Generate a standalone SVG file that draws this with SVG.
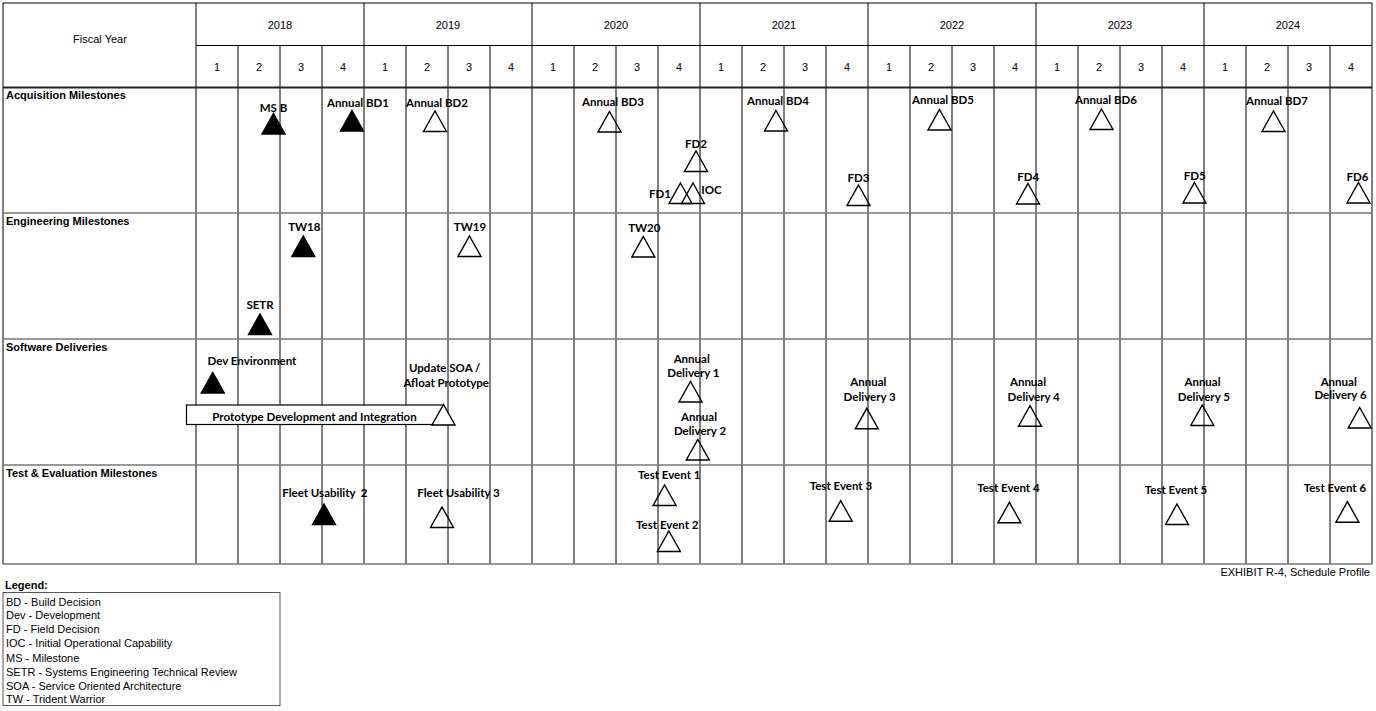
<svg xmlns="http://www.w3.org/2000/svg" xmlns:xlink="http://www.w3.org/1999/xlink" width="1376" height="711" viewBox="0 0 1376 711">
<style>
.hd{font-family:"Liberation Sans",Arial,sans-serif;font-size:11px;fill:#000;text-anchor:middle}
.sec{font-family:"Liberation Sans",Arial,sans-serif;font-size:11px;font-weight:bold;fill:#000}
.lg{font-family:"Liberation Sans",Arial,sans-serif;font-size:11px;fill:#000}
.ml{font-family:Lato,"Open Sans",sans-serif;font-size:11.5px;font-weight:bold;fill:#000;text-anchor:middle}
.v{stroke:#000;stroke-width:1}
.h{stroke:#777;stroke-width:1.6}
.f{fill:#000;stroke:#000;stroke-width:1.4}
.o{fill:none;stroke:#000;stroke-width:1.4}
.ow{fill:#fff;stroke:#000;stroke-width:1.4}
</style>
<defs>
<path id="tri" d="M0,0 L11.5,20.5 L-11.5,20.5 Z"/>
</defs>
<rect width="1376" height="711" fill="#fff"/>
<g id="grid">
<line class="v" x1="3" y1="3" x2="3" y2="564"/>
<line class="v" x1="196" y1="3" x2="196" y2="564"/>
<line class="v" x1="364" y1="3" x2="364" y2="564"/>
<line class="v" x1="532" y1="3" x2="532" y2="564"/>
<line class="v" x1="700" y1="3" x2="700" y2="564"/>
<line class="v" x1="868" y1="3" x2="868" y2="564"/>
<line class="v" x1="1036" y1="3" x2="1036" y2="564"/>
<line class="v" x1="1204" y1="3" x2="1204" y2="564"/>
<line class="v" x1="1372" y1="3" x2="1372" y2="564"/>
<g class="v">
<line x1="238" y1="45" x2="238" y2="564"/><line x1="280" y1="45" x2="280" y2="564"/><line x1="322" y1="45" x2="322" y2="564"/>
<line x1="406" y1="45" x2="406" y2="564"/><line x1="448" y1="45" x2="448" y2="564"/><line x1="490" y1="45" x2="490" y2="564"/>
<line x1="574" y1="45" x2="574" y2="564"/><line x1="616" y1="45" x2="616" y2="564"/><line x1="658" y1="45" x2="658" y2="564"/>
<line x1="742" y1="45" x2="742" y2="564"/><line x1="784" y1="45" x2="784" y2="564"/><line x1="826" y1="45" x2="826" y2="564"/>
<line x1="910" y1="45" x2="910" y2="564"/><line x1="952" y1="45" x2="952" y2="564"/><line x1="994" y1="45" x2="994" y2="564"/>
<line x1="1078" y1="45" x2="1078" y2="564"/><line x1="1120" y1="45" x2="1120" y2="564"/><line x1="1162" y1="45" x2="1162" y2="564"/>
<line x1="1246" y1="45" x2="1246" y2="564"/><line x1="1288" y1="45" x2="1288" y2="564"/><line x1="1330" y1="45" x2="1330" y2="564"/>
</g>
<line class="v" x1="3" y1="3" x2="1372" y2="3"/>
<line class="v" x1="196" y1="45.5" x2="1372" y2="45.5"/>
<line x1="3" y1="87.5" x2="1372" y2="87.5" stroke="#222" stroke-width="1.8"/>
<line class="h" x1="3" y1="213" x2="1372" y2="213"/>
<line class="h" x1="3" y1="339" x2="1372" y2="339"/>
<line class="h" x1="3" y1="465" x2="1372" y2="465"/>
<line class="h" x1="3" y1="564" x2="1372" y2="564"/>
</g>
<g id="header">
<text class="hd" x="100" y="43">Fiscal Year</text>
<text class="hd" x="280" y="29">2018</text>
<text class="hd" x="448" y="29">2019</text>
<text class="hd" x="616" y="29">2020</text>
<text class="hd" x="784" y="29">2021</text>
<text class="hd" x="952" y="29">2022</text>
<text class="hd" x="1120" y="29">2023</text>
<text class="hd" x="1288" y="29">2024</text>
<g>
<text class="hd" x="217" y="71">1</text><text class="hd" x="259" y="71">2</text><text class="hd" x="301" y="71">3</text><text class="hd" x="343" y="71">4</text>
<text class="hd" x="385" y="71">1</text><text class="hd" x="427" y="71">2</text><text class="hd" x="469" y="71">3</text><text class="hd" x="511" y="71">4</text>
<text class="hd" x="553" y="71">1</text><text class="hd" x="595" y="71">2</text><text class="hd" x="637" y="71">3</text><text class="hd" x="679" y="71">4</text>
<text class="hd" x="721" y="71">1</text><text class="hd" x="763" y="71">2</text><text class="hd" x="805" y="71">3</text><text class="hd" x="847" y="71">4</text>
<text class="hd" x="889" y="71">1</text><text class="hd" x="931" y="71">2</text><text class="hd" x="973" y="71">3</text><text class="hd" x="1015" y="71">4</text>
<text class="hd" x="1057" y="71">1</text><text class="hd" x="1099" y="71">2</text><text class="hd" x="1141" y="71">3</text><text class="hd" x="1183" y="71">4</text>
<text class="hd" x="1225" y="71">1</text><text class="hd" x="1267" y="71">2</text><text class="hd" x="1309" y="71">3</text><text class="hd" x="1351" y="71">4</text>
</g>
<text class="sec" x="6" y="99">Acquisition Milestones</text>
<text class="sec" x="6" y="225">Engineering Milestones</text>
<text class="sec" x="6" y="351">Software Deliveries</text>
<text class="sec" x="6" y="477">Test &amp; Evaluation Milestones</text>
</g>
<g id="ms-b"><use href="#tri" class="f" x="273.5" y="113.5"/><text class="ml" x="273.5" y="111.5">MS B</text></g>
<g id="annual-bd1"><use href="#tri" class="f" x="352" y="110.5"/><text class="ml" x="358" y="106.5">Annual BD1</text></g>
<g id="annual-bd2"><use href="#tri" class="o" x="435" y="111"/><text class="ml" x="437" y="106.5">Annual BD2</text></g>
<g id="annual-bd3"><use href="#tri" class="o" x="609.5" y="111.5"/><text class="ml" x="613" y="105.5">Annual BD3</text></g>
<g id="annual-bd4"><use href="#tri" class="o" x="776" y="110.5"/><text class="ml" x="778" y="105">Annual BD4</text></g>
<g id="annual-bd5"><use href="#tri" class="o" x="939.5" y="109.5"/><text class="ml" x="943" y="104">Annual BD5</text></g>
<g id="annual-bd6"><use href="#tri" class="o" x="1101.5" y="109"/><text class="ml" x="1106" y="104">Annual BD6</text></g>
<g id="annual-bd7"><use href="#tri" class="o" x="1273.5" y="111"/><text class="ml" x="1277" y="105">Annual BD7</text></g>
<g id="fd2"><use href="#tri" class="o" x="696" y="151"/><text class="ml" x="696" y="148">FD2</text></g>
<g id="fd1"><use href="#tri" class="o" x="680.5" y="183"/><text class="ml" x="660" y="198">FD1</text></g>
<g id="ioc"><use href="#tri" class="o" x="693" y="183"/><text class="ml" x="711.5" y="193.5">IOC</text></g>
<g id="fd3"><use href="#tri" class="o" x="858.5" y="185"/><text class="ml" x="858.5" y="182">FD3</text></g>
<g id="fd4"><use href="#tri" class="o" x="1028" y="183.5"/><text class="ml" x="1028.3" y="181">FD4</text></g>
<g id="fd5"><use href="#tri" class="o" x="1194.5" y="182.5"/><text class="ml" x="1194.7" y="179.5">FD5</text></g>
<g id="fd6"><use href="#tri" class="o" x="1358.5" y="182.5"/><text class="ml" x="1357.5" y="180.5">FD6</text></g>
<g id="tw18"><use href="#tri" class="f" x="303.3" y="236"/><text class="ml" x="304.3" y="231">TW18</text></g>
<g id="tw19"><use href="#tri" class="o" x="469.5" y="236"/><text class="ml" x="470" y="231">TW19</text></g>
<g id="tw20"><use href="#tri" class="o" x="643.3" y="236.5"/><text class="ml" x="644.3" y="232">TW20</text></g>
<g id="setr"><use href="#tri" class="f" x="260" y="314"/><text class="ml" x="260" y="309">SETR</text></g>
<g id="dev-environment"><use href="#tri" class="f" x="212.8" y="372.5"/><text class="ml" x="252" y="364.5">Dev Environment</text></g>
<g id="prototype-bar">
<rect x="186.5" y="405" width="257" height="19.5" fill="#fff" stroke="#000" stroke-width="1.2"/>
<use href="#tri" class="ow" x="443.5" y="404.5"/>
<text class="ml" x="314.5" y="421">Prototype Development and Integration</text>
</g>
<g id="update-soa"><text class="ml" x="444.7" y="372">Update SOA /</text><text class="ml" x="446.2" y="387">Afloat Prototype</text></g>
<g id="annual-delivery-1"><use href="#tri" class="o" x="690.5" y="381.5"/><text class="ml" x="691.7" y="363">Annual</text><text class="ml" x="693.4" y="377">Delivery 1</text></g>
<g id="annual-delivery-2"><use href="#tri" class="o" x="697.8" y="439.5"/><text class="ml" x="699" y="420.5">Annual</text><text class="ml" x="700" y="435">Delivery 2</text></g>
<g id="annual-delivery-3"><use href="#tri" class="o" x="866.8" y="408.3"/><text class="ml" x="868.3" y="386">Annual</text><text class="ml" x="869.7" y="400.5">Delivery 3</text></g>
<g id="annual-delivery-4"><use href="#tri" class="o" x="1030" y="405.7"/><text class="ml" x="1028" y="386">Annual</text><text class="ml" x="1033.7" y="400.5">Delivery 4</text></g>
<g id="annual-delivery-5"><use href="#tri" class="o" x="1202.3" y="405"/><text class="ml" x="1202.5" y="386">Annual</text><text class="ml" x="1203.8" y="400.5">Delivery 5</text></g>
<g id="annual-delivery-6"><use href="#tri" class="o" x="1359.7" y="407.5"/><text class="ml" x="1338.7" y="385.5">Annual</text><text class="ml" x="1340.5" y="399">Delivery 6</text></g>
<g id="fleet-usability-2"><use href="#tri" class="f" x="324" y="504"/><text class="ml" x="324.9" y="497.3" xml:space="preserve">Fleet Usability  2</text></g>
<g id="fleet-usability-3"><use href="#tri" class="o" x="442" y="507"/><text class="ml" x="458.5" y="497.3">Fleet Usability 3</text></g>
<g id="test-event-1"><use href="#tri" class="o" x="664.6" y="485"/><text class="ml" x="669.2" y="479">Test Event 1</text></g>
<g id="test-event-2"><use href="#tri" class="o" x="668.9" y="531"/><text class="ml" x="667.3" y="529">Test Event 2</text></g>
<g id="test-event-3"><use href="#tri" class="o" x="840.7" y="500.7"/><text class="ml" x="840.9" y="490">Test Event 3</text></g>
<g id="test-event-4"><use href="#tri" class="o" x="1009.4" y="502.3"/><text class="ml" x="1008.4" y="492">Test Event 4</text></g>
<g id="test-event-5"><use href="#tri" class="o" x="1177" y="504"/><text class="ml" x="1176" y="494">Test Event 5</text></g>
<g id="test-event-6"><use href="#tri" class="o" x="1347.4" y="501.7"/><text class="ml" x="1334.9" y="491.7">Test Event 6</text></g>
<g id="connectors"></g>
<text class="lg" x="1370" y="576" text-anchor="end">EXHIBIT R-4, Schedule Profile</text>
<g id="legend">
<text class="sec" x="5" y="589">Legend:</text>
<rect x="3" y="592.5" width="277" height="113" fill="none" stroke="#555" stroke-width="1"/>
<text class="lg" x="6" y="605.5">BD - Build Decision</text>
<text class="lg" x="6" y="619">Dev - Development</text>
<text class="lg" x="6" y="633.3">FD - Field Decision</text>
<text class="lg" x="6" y="647.3">IOC - Initial Operational Capability</text>
<text class="lg" x="6" y="662">MS - Milestone</text>
<text class="lg" x="6" y="675.7">SETR - Systems Engineering Technical Review</text>
<text class="lg" x="6" y="690">SOA - Service Oriented Architecture</text>
<text class="lg" x="6" y="703.3">TW - Trident Warrior</text>
</g>
</svg>
